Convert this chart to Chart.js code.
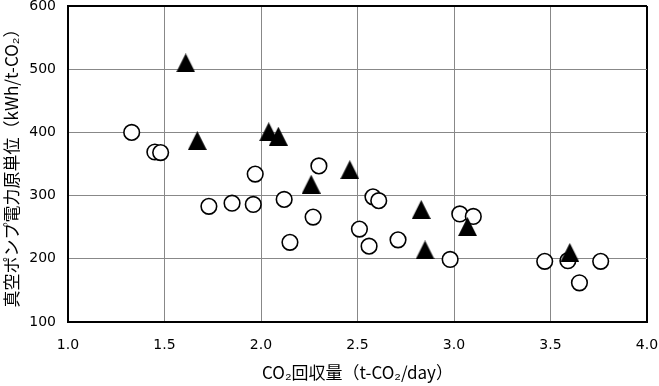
<!DOCTYPE html>
<html>
<head>
<meta charset="utf-8">
<script src="https://cdn.jsdelivr.net/npm/chart.js@4"></script>
<style>
  body { margin: 0; background: #fff; }
  #wrap { width: 659px; height: 386px; }
</style>
</head>
<body>
<div id="wrap"><canvas id="pumpChart" width="659" height="386"></canvas></div>
<script>
// circles (open markers)
const circleX = [1.33, 1.45, 1.48, 1.97, 2.30, 1.73, 1.85, 1.96, 2.12, 2.15, 2.27,
                 2.58, 2.61, 2.51, 2.56, 2.71, 2.98, 3.03, 3.10, 3.47, 3.59, 3.65, 3.76];
const circleY = [400, 369, 368, 334, 347, 283, 288, 286, 294, 226, 266,
                 298, 292, 247, 220, 230, 199, 271, 267, 196, 197, 162, 196];

// triangles (filled markers)
const triX = [1.61, 1.67, 2.04, 2.09, 2.26, 2.46, 2.83, 2.85, 3.07, 3.60];
const triY = [510, 387, 401, 394, 318, 341, 278, 214, 251, 210];

const xTicks = [1.0, 1.5, 2.0, 2.5, 3.0, 3.5, 4.0];
const yTicks = [100, 200, 300, 400, 500, 600];

const toPoints = (xs, ys) => xs.map((x, i) => ({ x: x, y: ys[i] }));

// Excel-style triangle marker (a bit taller than equilateral)
function makeTriangle(w, h) {
    const c = document.createElement('canvas');
    c.width = w;
    c.height = h;
    const g = c.getContext('2d');
    g.fillStyle = '#000';
    g.beginPath();
    g.moveTo(w / 2, 0);
    g.lineTo(w, h);
    g.lineTo(0, h);
    g.closePath();
    g.fill();
    return c;
}

const tickFont = { family: '"DejaVu Sans", sans-serif', size: 14 };
const titleFont = { family: '"Noto Sans CJK JP", sans-serif', size: 17 };

const ctx = document.getElementById('pumpChart').getContext('2d');

new Chart(ctx, {
    type: 'scatter',
    data: {
        datasets: [{
            label: 'triangle',
            data: toPoints(triX, triY),
            pointStyle: makeTriangle(19, 19),
            pointRadius: 10,
            backgroundColor: '#000',
            borderColor: '#000'
        }, {
            label: 'circle',
            data: toPoints(circleX, circleY),
            pointStyle: 'circle',
            pointRadius: 7.8,
            backgroundColor: '#fff',
            borderColor: '#000',
            borderWidth: 1.6
        }]
    },
    options: {
        responsive: false,
        animation: false,
        layout: { autoPadding: false, padding: { top: 6, right: 12, left: 0, bottom: 0 } },
        plugins: {
            legend: { display: false },
            tooltip: { enabled: false }
        },
        scales: {
            x: {
                type: 'linear',
                min: 1.0,
                max: 4.0,
                afterFit: s => { s.height = 64; s.paddingLeft = 0; s.paddingRight = 0; },
                afterBuildTicks: s => { s.ticks = xTicks.map(v => ({ value: v })); },
                ticks: {
                    color: '#000',
                    font: tickFont,
                    padding: 15,
                    maxRotation: 0,
                    callback: v => v.toFixed(1)
                },
                grid: {
                    drawTicks: false,
                    color: c => c.tick && c.tick.value === 4.0 ? '#000' : '#888',
                    lineWidth: c => c.tick && c.tick.value === 4.0 ? 2 : 1
                },
                border: { color: '#000', width: 2 },
                title: {
                    display: true,
                    text: 'CO₂回収量（t-CO₂/day）',
                    color: '#000',
                    font: titleFont,
                    padding: { top: 0, bottom: 3 }
                }
            },
            y: {
                type: 'linear',
                min: 100,
                max: 600,
                afterFit: s => { s.width = 68; s.paddingTop = 0; s.paddingBottom = 0; },
                afterBuildTicks: s => { s.ticks = yTicks.map(v => ({ value: v })); },
                ticks: {
                    color: '#000',
                    font: tickFont,
                    padding: 12
                },
                grid: {
                    drawTicks: false,
                    color: c => c.tick && c.tick.value === 600 ? '#000' : '#888',
                    lineWidth: c => c.tick && c.tick.value === 600 ? 2 : 1
                },
                border: { color: '#000', width: 2 },
                title: {
                    display: true,
                    text: '真空ポンプ電力原単位（kWh/t-CO₂）',
                    color: '#000',
                    font: titleFont,
                    padding: { top: 1, bottom: 0 }
                }
            }
        }
    }
});
</script>
</body>
</html>
